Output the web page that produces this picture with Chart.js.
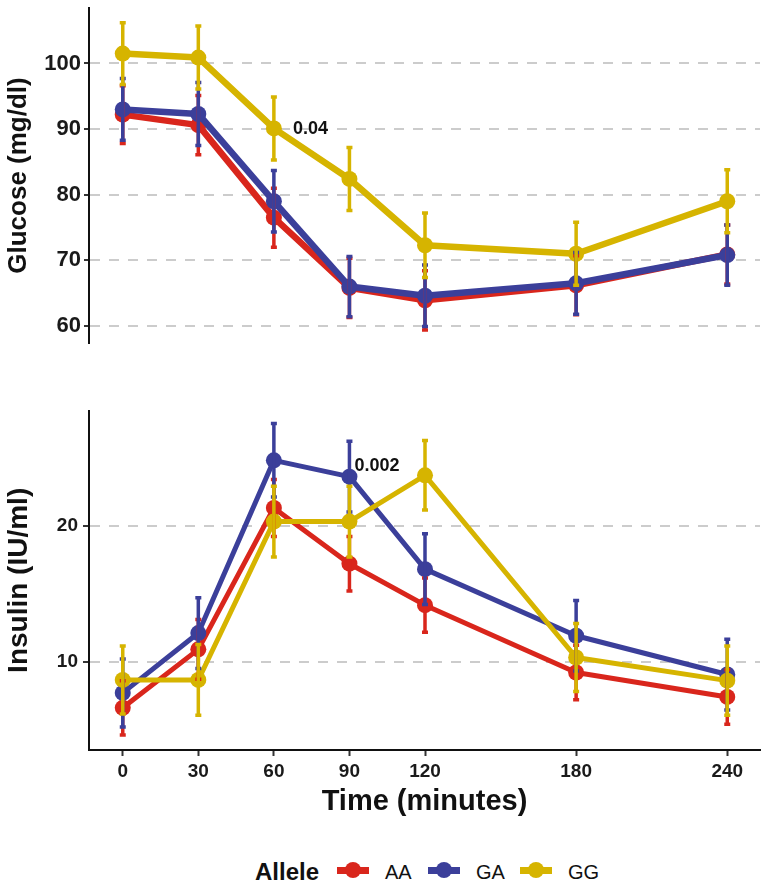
<!DOCTYPE html>
<html>
<head>
<meta charset="utf-8">
<script src="https://cdn.jsdelivr.net/npm/chart.js@4.4.1/dist/chart.umd.min.js"></script>
<style>
  body { margin: 0; background: #fff; }
  #wrap { position: relative; width: 768px; height: 886px; font-family: "Liberation Sans", Arial, sans-serif; color: #111; }
  #glucoseChart { position: absolute; left: 0; top: 0; }
  #insulinChart { position: absolute; left: 0; top: 360px; }
  .lg { position: absolute; top: 857px; height: 30px; line-height: 30px; white-space: nowrap; }
  .lg-title { font-weight: bold; font-size: 24px; }
  .lg-text { font-size: 20px; }
  .key { position: absolute; top: 862px; width: 32px; height: 16px; }
  .key .bar { position: absolute; left: 0; top: 4.5px; width: 32px; height: 7px; }
  .key .dot { position: absolute; left: 8px; top: 0; width: 16px; height: 16px; border-radius: 50%; }
</style>
</head>
<body>
<div id="wrap">
  <canvas id="glucoseChart" width="768" height="360"></canvas>
  <canvas id="insulinChart" width="768" height="460"></canvas>
  <div id="legend"></div>
</div>
<script>
// sampling times (minutes) and genotype groups
const times = [0, 30, 60, 90, 120, 180, 240];
const alleles = ['AA', 'GA', 'GG'];

// glucose (mg/dl): mean and error per group
const glucoseAA = [92.2, 90.6, 76.5, 65.8, 63.9, 66.2, 70.9];
const glucoseGA = [93.0, 92.3, 79.0, 66.0, 64.6, 66.5, 70.8];
const glucoseGG = [101.5, 100.9, 90.1, 82.4, 72.3, 71.0, 79.0];
const glucoseAAErr = [4.4, 4.5, 4.5, 4.5, 4.5, 4.5, 4.5];
const glucoseGAErr = [4.7, 4.8, 4.7, 4.6, 4.7, 4.7, 4.6];
const glucoseGGErr = [4.7, 4.8, 4.8, 4.8, 4.9, 4.8, 4.8];

// insulin (IU/ml): mean and error per group
const insulinAA = [6.6, 10.9, 21.3, 17.2, 14.15, 9.2, 7.4];
const insulinGA = [7.7, 12.1, 24.8, 23.6, 16.8, 11.9, 9.05];
const insulinGG = [8.65, 8.65, 20.3, 20.3, 23.7, 10.3, 8.6];
const insulinAAErr = [2.0, 2.2, 2.1, 2.0, 2.0, 2.0, 2.0];
const insulinGAErr = [2.5, 2.6, 2.7, 2.6, 2.6, 2.6, 2.6];
const insulinGGErr = [2.5, 2.6, 2.6, 2.6, 2.55, 2.5, 2.55];

// axis ticks
const timeTicks = [0, 30, 60, 90, 120, 180, 240];
const glucoseTicks = [60, 70, 80, 90, 100];
const insulinTicks = [10, 20];

// p-value labels
const glucoseNotes = [{ allele: 'GG', index: 2, text: '0.04' }];
const insulinNotes = [{ allele: 'GA', index: 3, text: '0.002' }];

const colors = { AA: '#d9261c', GA: '#3b3f9a', GG: '#d6b400' };
const FONT = '"Liberation Sans", Arial, sans-serif';

Chart.defaults.font.family = FONT;
Chart.defaults.color = '#1a1a1a';

function makeDatasets(series, errs, lineW, radius) {
  return alleles.map((a, i) => ({
    label: a,
    data: times.map((t, j) => ({ x: t, y: series[i][j] })),
    err: errs[i],
    borderColor: colors[a],
    backgroundColor: colors[a],
    pointBackgroundColor: colors[a],
    borderWidth: lineW,
    pointRadius: radius,
    pointBorderWidth: 0,
    borderJoinStyle: 'round',
    tension: 0,
    order: alleles.length - i,
    clip: false
  }));
}

const errorBars = {
  id: 'errorBars',
  afterDatasetsDraw(chart) {
    const ctx = chart.ctx;
    const xs = chart.scales.x, ys = chart.scales.y;
    chart.data.datasets.forEach(ds => {
      ctx.save();
      ctx.strokeStyle = ds.borderColor;
      ctx.lineWidth = 3.5;
      ds.data.forEach((p, j) => {
        const x = xs.getPixelForValue(p.x);
        const y1 = ys.getPixelForValue(p.y + ds.err[j]);
        const y2 = ys.getPixelForValue(p.y - ds.err[j]);
        ctx.beginPath();
        ctx.moveTo(x, y1); ctx.lineTo(x, y2);
        ctx.moveTo(x - 3, y1); ctx.lineTo(x + 3, y1);
        ctx.moveTo(x - 3, y2); ctx.lineTo(x + 3, y2);
        ctx.stroke();
      });
      ctx.restore();
    });
  }
};

const notes = {
  id: 'notes',
  afterDraw(chart, args, opts) {
    const ctx = chart.ctx;
    (opts.items || []).forEach(n => {
      const pt = chart.getDatasetMeta(alleles.indexOf(n.allele)).data[n.index];
      ctx.save();
      ctx.font = 'bold 18px ' + FONT;
      ctx.fillStyle = '#111';
      ctx.textAlign = 'left';
      ctx.textBaseline = 'middle';
      ctx.fillText(n.text, pt.x + opts.dx, pt.y + opts.dy);
      ctx.restore();
    });
  }
};

function yAxis(min, max, tickVals, title, o) {
  return {
    type: 'linear',
    min: min,
    max: max,
    afterBuildTicks: s => { s.ticks = tickVals.map(v => ({ value: v })); },
    afterFit: s => { s.width = 89; s.paddingTop = 0; s.paddingBottom = 0; },
    grid: { color: '#cccccc', lineWidth: 2, tickColor: '#333', tickWidth: 2, tickLength: o.tickLength, tickBorderDash: [] },
    border: { color: '#111', width: 2, dash: [10, 9] },
    ticks: { font: { size: o.tickSize, weight: 'bold' }, color: '#1a1a1a', padding: o.tickPad },
    title: { display: true, text: title, color: '#111', font: { size: o.titleSize, weight: 'bold' }, padding: { top: o.titlePad, bottom: 0 } }
  };
}

new Chart(document.getElementById('glucoseChart'), {
  type: 'line',
  data: { datasets: makeDatasets([glucoseAA, glucoseGA, glucoseGG], [glucoseAAErr, glucoseGAErr, glucoseGGErr], 6.5, 8) },
  plugins: [errorBars, notes],
  options: {
    responsive: false,
    animation: false,
    devicePixelRatio: 1,
    events: [],
    layout: { padding: { top: 5, right: 5, bottom: 17, left: 0 } },
    scales: {
      x: { type: 'linear', display: false, min: -13.4, max: 253 },
      y: yAxis(57.4, 108.45, glucoseTicks, 'Glucose (mg/dl)', { tickLength: 5, tickPad: 3, tickSize: 22, titleSize: 26, titlePad: 3.5 })
    },
    plugins: {
      legend: { display: false },
      tooltip: { enabled: false },
      notes: { items: glucoseNotes, dx: 19, dy: 1 }
    }
  }
});

new Chart(document.getElementById('insulinChart'), {
  type: 'line',
  data: { datasets: makeDatasets([insulinAA, insulinGA, insulinGG], [insulinAAErr, insulinGAErr, insulinGGErr], 5, 8) },
  plugins: [errorBars, notes],
  options: {
    responsive: false,
    animation: false,
    devicePixelRatio: 1,
    events: [],
    layout: { padding: { top: 50.7, right: 5, bottom: 0, left: 0 } },
    scales: {
      x: {
        type: 'linear',
        min: -13.4,
        max: 253,
        afterBuildTicks: s => { s.ticks = timeTicks.map(v => ({ value: v })); },
        afterFit: s => { s.height = 70; },
        grid: { drawOnChartArea: false, tickLength: 6, tickColor: '#333', tickWidth: 2 },
        border: { color: '#111', width: 2 },
        ticks: { font: { size: 19, weight: 'bold' }, color: '#1a1a1a', padding: 4, maxRotation: 0, autoSkip: false, callback: v => v },
        title: { display: true, text: 'Time (minutes)', color: '#111', font: { size: 29, weight: 'bold' }, padding: { top: 0, bottom: 1 } }
      },
      y: yAxis(3.5, 28.45, insulinTicks, 'Insulin (IU/ml)', { tickLength: 6, tickPad: 5, tickSize: 19, titleSize: 28, titlePad: 2.5 })
    },
    plugins: {
      legend: { display: false },
      tooltip: { enabled: false },
      notes: { items: insulinNotes, dx: 5, dy: -11 }
    }
  }
});

// legend row below the panels
const legendLefts = { title: 255, keys: [337, 428, 520], labels: [385, 476, 568] };
const legend = document.getElementById('legend');
let html = '<div class="lg lg-title" style="left:' + legendLefts.title + 'px">Allele</div>';
alleles.forEach((a, i) => {
  html += '<div class="key" style="left:' + legendLefts.keys[i] + 'px">' +
    '<div class="bar" style="background:' + colors[a] + '"></div>' +
    '<div class="dot" style="background:' + colors[a] + '"></div></div>';
  html += '<div class="lg lg-text" style="left:' + legendLefts.labels[i] + 'px">' + a + '</div>';
});
legend.innerHTML = html;
</script>
</body>
</html>
